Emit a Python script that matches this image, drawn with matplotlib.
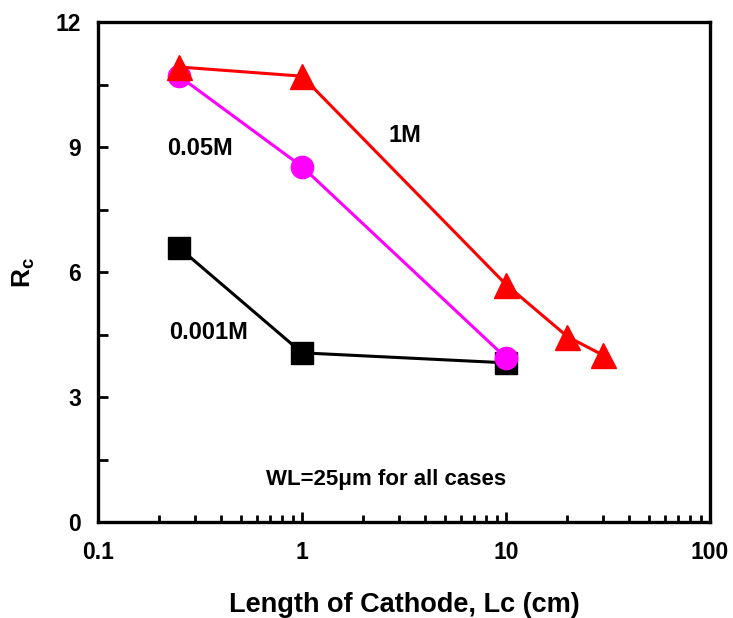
import matplotlib
matplotlib.use('Agg')
import matplotlib.pyplot as plt
from matplotlib.ticker import FixedLocator, LogLocator, NullFormatter

plt.rcParams['font.family'] = ['Liberation Sans', 'DejaVu Sans']
plt.rcParams['font.weight'] = 'bold'
plt.rcParams['mathtext.fontset'] = 'custom'
plt.rcParams['mathtext.rm'] = 'Liberation Sans:bold'
plt.rcParams['mathtext.bf'] = 'Liberation Sans:bold'

# Rc versus cathode length for three concentrations
lc_001 = [0.25, 1, 10]
rc_001 = [6.58, 4.06, 3.82]

lc_005 = [0.25, 1, 10]
rc_005 = [10.7, 8.53, 3.94]

lc_1 = [0.25, 1, 10, 20, 30]
rc_1 = [10.92, 10.7, 5.7, 4.45, 4.0]

x_ticks = [0.1, 1, 10, 100]
x_labels = ['0.1', '1', '10', '100']
y_ticks = [0, 3, 6, 9, 12]
y_labels = ['0', '3', '6', '9', '12']

fig = plt.figure(figsize=(7.33, 6.18), dpi=100)
ax = fig.add_axes([98 / 733, 1 - 522 / 618, 612 / 733, 500 / 618])

ax.plot(lc_001, rc_001, color='black', lw=2.2, marker='s', ms=16, zorder=3)
ax.plot(lc_005, rc_005, color='#ff00ff', lw=2.2, marker='o', ms=16, zorder=4)
ax.plot(lc_1, rc_1, color='red', lw=2.2, marker='^', ms=18, zorder=5)

ax.set_xscale('log')
ax.set_xlim(0.1, 100)
ax.set_ylim(0, 12)

ax.set_xticks(x_ticks)
ax.set_xticklabels(x_labels, fontsize=16.5, fontweight='bold')
ax.xaxis.set_minor_locator(LogLocator(base=10, subs=range(2, 10), numticks=20))
ax.xaxis.set_minor_formatter(NullFormatter())
ax.set_yticks(y_ticks)
ax.set_yticklabels(y_labels, fontsize=16.5, fontweight='bold')
ax.yaxis.set_minor_locator(FixedLocator([1.5, 4.5, 7.5, 10.5]))

ax.tick_params(which='both', direction='in', top=False, right=False, width=2)
ax.tick_params(which='major', length=7)
ax.tick_params(axis='x', which='minor', length=5)
ax.tick_params(axis='y', which='minor', length=7)
ax.tick_params(axis='x', which='major', pad=14)
ax.tick_params(axis='y', which='major', pad=12)
for sp in ax.spines.values():
    sp.set_linewidth(2.4)

ax.set_xlabel('Length of Cathode, Lc (cm)', fontsize=19.5, fontweight='bold', labelpad=20)
ax.set_ylabel(r'R$_{\mathrm{c}}$', fontsize=19, fontweight='bold', labelpad=14)

ax.text(0.316, 8.97, '0.05M', fontsize=17, fontweight='bold', ha='center', va='center')
ax.text(3.2, 9.28, '1M', fontsize=17, fontweight='bold', ha='center', va='center')
ax.text(0.35, 4.54, '0.001M', fontsize=17, fontweight='bold', ha='center', va='center')
ax.text(2.57, 1.01, 'WL=25μm for all cases', fontsize=16, fontweight='bold',
        ha='center', va='center')

fig.savefig('out.png', dpi=100)
